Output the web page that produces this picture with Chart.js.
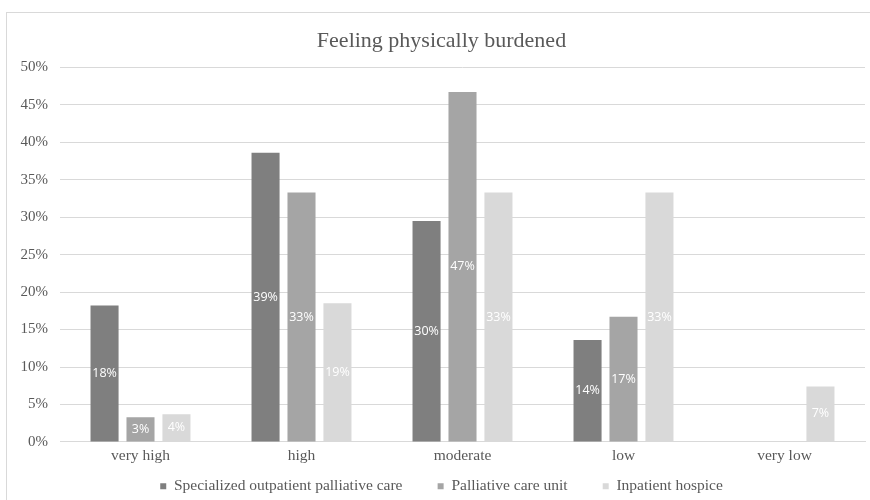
<!DOCTYPE html>
<html>
<head>
<meta charset="utf-8">
<script src="https://cdn.jsdelivr.net/npm/chart.js@4/dist/chart.umd.min.js"></script>
<style>
  html, body { margin: 0; padding: 0; background: #fff; }
  #wrap { position: relative; width: 870px; height: 500px; overflow: hidden; }
  #frame { position: absolute; left: 6px; top: 12px; width: 880px; height: 520px; border: 1px solid #d9d9d9; box-sizing: border-box; }
  #chart { position: absolute; left: 0; top: 0; }
</style>
</head>
<body>
<div id="wrap">
  <div id="frame"></div>
  <canvas id="chart" width="870" height="500"></canvas>
</div>
<script>
// Burden levels and share of respondents (%) per care setting
const categories = ['very high', 'high', 'moderate', 'low', 'very low'];
const seriesNames = ['Specialized outpatient palliative care', 'Palliative care unit', 'Inpatient hospice'];
const outpatientCare = [18.2, 38.6, 29.5, 13.6, 0];
const palliativeUnit = [3.3, 33.3, 46.7, 16.7, 0];
const inpatientHospice = [3.7, 18.5, 33.3, 33.3, 7.4];
const seriesColors = ['#7f7f7f', '#a5a5a5', '#d9d9d9'];
const yMax = 50;
const yStep = 5;

const serif = "'Liberation Serif', 'DejaVu Serif', serif";
const textGrey = '#595959';

// White percentage labels centred inside each bar
const barValueLabels = {
  id: 'barValueLabels',
  afterDatasetsDraw(chart) {
    const ctx = chart.ctx;
    ctx.save();
    ctx.font = "12.5px 'Open Sans', sans-serif";
    ctx.fillStyle = '#ffffff';
    ctx.textAlign = 'center';
    ctx.textBaseline = 'middle';
    chart.data.datasets.forEach((ds, i) => {
      const meta = chart.getDatasetMeta(i);
      meta.data.forEach((bar, j) => {
        const v = ds.data[j];
        if (!v) return;
        const mid = (bar.y + bar.base) / 2;
        ctx.fillText(Math.round(v) + '%', bar.x, mid);
      });
    });
    ctx.restore();
  }
};

const values = [outpatientCare, palliativeUnit, inpatientHospice];

new Chart(document.getElementById('chart'), {
  type: 'bar',
  data: {
    labels: categories,
    datasets: seriesNames.map((name, i) => ({
      label: name,
      data: values[i],
      backgroundColor: seriesColors[i],
      borderWidth: 0,
      categoryPercentage: 0.67,
      barPercentage: 0.78
    }))
  },
  options: {
    responsive: false,
    animation: false,
    devicePixelRatio: 1,
    layout: { padding: { left: 18, right: 5, top: 12, bottom: -4 } },
    plugins: {
      title: {
        display: true,
        text: 'Feeling physically burdened',
        color: textGrey,
        font: { family: serif, size: 22, weight: 'normal' },
        padding: { top: 16, bottom: 13 }
      },
      legend: {
        position: 'bottom',
        labels: {
          color: textGrey,
          font: { family: serif, size: 15.5 },
          boxWidth: 6,
          boxHeight: 6,
          padding: 8,
          // widen the gap after each entry except the last one
          generateLabels(chart) {
            const items = Chart.defaults.plugins.legend.labels.generateLabels(chart);
            items.forEach((it, k) => {
              if (k < items.length - 1) it.text = it.text + '       ';
            });
            return items;
          }
        }
      },
      tooltip: { enabled: false }
    },
    scales: {
      x: {
        grid: { display: false, drawTicks: false },
        border: { display: true, color: '#d9d9d9', width: 1 },
        ticks: { color: textGrey, font: { family: serif, size: 15.5 }, padding: 5 }
      },
      y: {
        min: 0,
        max: yMax,
        grid: { color: '#d9d9d9', drawTicks: false },
        border: { display: false },
        ticks: {
          stepSize: yStep,
          color: textGrey,
          font: { family: serif, size: 15 },
          padding: 12,
          callback: v => v + '%'
        },
        afterFit(scale) { scale.width = 42; }
      }
    }
  },
  plugins: [barValueLabels]
});
</script>
</body>
</html>
